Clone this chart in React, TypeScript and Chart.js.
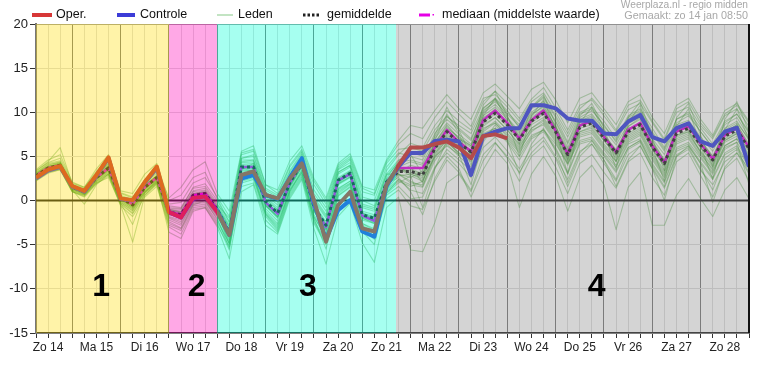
import React, { useEffect, useRef } from 'react';
import { Chart, registerables } from 'chart.js';

Chart.register(...registerables);

const DAY_LABELS = ['Zo 14', 'Ma 15', 'Di 16', 'Wo 17', 'Do 18', 'Vr 19', 'Za 20', 'Zo 21', 'Ma 22', 'Di 23', 'Wo 24', 'Do 25', 'Vr 26', 'Za 27', 'Zo 28'];
const Y_TICKS = [-15, -10, -5, 0, 5, 10, 15, 20];

// 6-hourly values, step 0 = Zo 14 06:00
const OPER = [2.6, 3.5, 3.9, 1.65, 1.1, 2.9, 4.9, 0.25, 0.05, 2.1, 3.85, -1.3, -1.9, 0.3, 0.45, -1.3, -3.9, 2.9, 3.3, 0.65, 0.25, 2.5, 4.2, 0.05, -4.65, -0.5, 1.0, -3.15, -3.5, 1.75, 4.0, 6.0, 6.0, 6.4, 6.7, 6.0, 4.8, 7.3, 7.5, 7.05];
const CONTROLE = [2.5, 3.4, 3.8, 1.6, 1.0, 2.8, 4.8, 0.2, 0.0, 2.0, 3.7, -1.3, -1.9, 0.2, 0.5, -1.2, -3.9, 2.5, 2.9, 0.6, 0.2, 2.6, 4.8, -0.3, -4.4, -1.1, 0.05, -3.5, -4.1, 1.6, 3.85, 5.4, 5.4, 6.75, 6.9, 6.7, 2.9, 7.3, 7.8, 8.2, 8.2, 10.8, 10.8, 10.45, 9.3, 9.05, 9.05, 7.6, 7.5, 8.95, 9.7, 7.2, 6.7, 8.2, 8.75, 6.7, 6.2, 7.8, 8.25, 3.85];
const GEMIDDELDE = [2.8, 3.7, 4.0, 1.5, 1.0, 2.6, 3.7, 0.3, -0.5, 1.5, 2.6, -1.3, -1.6, 0.6, 0.8, -1.0, -3.6, 3.8, 3.8, -0.1, -1.4, 2.0, 4.2, -0.7, -2.8, 2.3, 3.1, -1.6, -2.0, 2.1, 3.3, 3.3, 2.9, 5.9, 7.8, 6.5, 5.5, 8.9, 9.9, 8.6, 6.9, 9.0, 9.9, 7.8, 5.2, 8.3, 8.8, 7.1, 5.4, 7.8, 8.6, 6.1, 4.2, 7.6, 8.2, 6.3, 4.6, 7.3, 8.0, 5.9];
const MEDIAAN = [2.8, 3.7, 4.0, 1.5, 1.0, 2.6, 3.7, 0.3, -0.4, 1.5, 2.6, -1.3, -1.6, 0.6, 0.8, -1.0, -3.6, 3.8, 3.8, -0.2, -1.5, 2.0, 4.2, -0.8, -3.0, 2.3, 3.0, -1.7, -2.3, 2.1, 3.7, 3.7, 3.7, 6.0, 8.0, 6.6, 5.6, 9.1, 10.2, 8.8, 7.0, 9.1, 10.2, 7.9, 5.3, 8.5, 9.0, 7.2, 5.5, 8.0, 8.8, 6.2, 4.3, 7.8, 8.4, 6.4, 4.7, 7.4, 8.2, 6.0];
const NULLIJN = [0, 0];

const LID_01 = [3.0, 3.9, 4.2, 1.7, 1.2, 2.9, 4.1, 0.5, -0.2, 1.8, 2.9, -1.0, -1.2, 1.0, 1.2, -0.6, -3.0, 4.3, 4.4, 0.4, -0.8, 2.6, 4.8, 0.0, -2.0, 3.0, 3.8, -0.8, -1.2, 2.8, 4.3, 4.6, 4.2, 7.0, 8.8, 7.5, 6.4, 9.9, 10.9, 9.4, 7.8, 10.0, 11.0, 8.9, 6.0, 9.2, 9.8, 8.0, 6.3, 8.7, 9.5, 7.0, 5.2, 8.6, 9.1, 7.2, 5.6, 8.2, 9.0, 6.8];
const LID_02 = [2.5, 3.4, 3.7, 1.3, 0.8, 2.3, 3.3, 0.0, -1.0, 1.1, 2.2, -1.8, -2.2, 0.0, 0.2, -1.6, -4.4, 3.0, 3.1, -0.9, -2.3, 1.2, 3.5, -1.6, -3.8, 1.4, 2.2, -2.6, -3.2, 1.2, 2.4, 1.8, 1.5, 4.5, 6.4, 5.0, 3.8, 7.4, 8.2, 6.8, 5.0, 7.2, 8.0, 6.0, 3.2, 6.6, 7.0, 5.2, 3.4, 6.0, 6.8, 4.2, 2.2, 5.8, 6.4, 4.4, 2.6, 5.4, 6.2, 4.0];
const LID_03 = [2.9, 3.8, 4.3, 1.6, 1.1, 2.7, 3.9, 0.4, -0.3, 1.6, 2.8, -0.8, -0.9, 1.5, 1.9, 0.0, -2.5, 4.8, 5.0, 1.0, 0.0, 3.2, 5.2, 0.8, -1.2, 3.5, 4.3, 0.0, -0.6, 3.4, 5.2, 6.5, 6.0, 8.5, 10.2, 9.0, 8.0, 11.2, 12.4, 11.0, 9.3, 11.5, 12.8, 10.5, 8.0, 10.8, 11.4, 9.6, 7.8, 10.3, 11.0, 8.8, 6.8, 10.0, 10.6, 8.5, 7.0, 9.6, 10.4, 8.4];
const LID_04 = [2.7, 3.6, 3.9, 1.4, 0.9, 2.5, 3.6, 0.2, -0.8, 1.3, 2.4, -1.5, -2.0, 0.3, 0.5, -1.3, -5.0, 2.5, 2.8, -1.5, -3.0, 1.0, 3.2, -2.0, -5.5, 0.5, 1.5, -3.5, -5.0, 0.8, 2.0, 2.8, 2.2, 5.0, 7.0, 5.8, 4.6, 8.0, 9.0, 7.6, 6.0, 8.2, 9.0, 7.0, 4.4, 7.6, 8.0, 6.2, 4.5, 7.0, 7.8, 5.2, 3.2, 6.8, 7.4, 5.5, 3.8, 6.6, 7.3, 5.0];
const LID_05 = [2.6, 3.5, 3.8, 1.2, -0.4, 1.8, 3.0, -0.5, -4.7, 0.6, 2.0, -3.6, -4.3, -1.2, -0.8, -3.0, -6.6, 1.0, 1.8, -2.8, -3.8, 0.2, 2.4, -3.2, -7.2, -1.8, -0.3, -4.8, -7.0, -0.8, 0.4, -5.6, -5.8, -2.5, 2.0, 3.0, 1.0, 4.5, 6.5, 5.0, 3.2, 5.4, 6.8, 4.8, 1.6, 5.0, 6.4, 4.6, 2.4, 5.8, 6.6, 3.8, 1.6, 5.2, 6.0, 3.6, 1.2, 4.8, 5.8, 3.2];
const LID_06 = [3.3, 4.4, 6.0, 1.9, 0.7, 2.4, 3.4, -0.3, -2.7, 0.9, 2.3, -2.4, -3.1, -0.5, 0.0, -2.2, -4.8, 3.5, 4.2, -0.6, -2.0, 1.7, 4.5, -1.2, -3.4, 2.0, 3.0, -2.0, -2.6, 2.4, 3.8, 3.0, 2.6, 6.5, 8.6, 7.0, 6.0, 10.0, 11.4, 9.5, 7.2, 9.6, 10.8, 8.4, 5.4, 9.0, 9.6, 7.6, 5.6, 8.4, 9.2, 6.4, 4.0, 8.0, 8.8, 6.8, 5.0, 7.8, 8.6, 6.4];
const LID_07 = [3.1, 4.0, 4.4, 1.8, 1.3, 3.2, 4.6, 0.8, 0.3, 2.3, 3.6, 0.3, 1.5, 3.5, 4.4, 0.8, -1.2, 5.6, 6.2, 1.8, 1.2, 4.5, 6.2, 2.5, 0.3, 4.2, 5.3, 1.6, 1.2, 4.6, 6.8, 8.5, 8.2, 10.2, 12.0, 10.4, 9.2, 12.2, 13.2, 11.8, 10.4, 12.6, 13.4, 11.4, 8.8, 11.6, 12.2, 10.4, 8.6, 11.2, 12.0, 9.4, 7.6, 10.8, 11.6, 9.2, 7.4, 10.2, 11.0, 9.0];
const LID_08 = [2.4, 3.3, 3.6, 1.1, 0.6, 2.1, 3.0, -0.2, -1.2, 0.9, 2.0, -2.0, -2.6, -0.3, 0.0, -1.8, -4.2, 3.2, 3.5, -0.6, -1.8, 1.6, 3.8, -1.2, -3.2, 1.8, 2.6, -2.2, -2.6, 1.6, 3.0, 2.2, 1.6, 5.2, 7.4, 6.2, 5.0, 8.6, 9.4, 8.0, 6.2, 8.2, 9.2, 7.2, 4.6, 7.8, 8.2, 6.4, 4.8, 7.2, 8.0, 5.4, 3.4, 7.0, 7.6, 5.6, 4.0, 6.8, 7.6, 5.2];
const LID_09 = [2.9, 3.8, 4.1, 1.5, 1.0, 2.7, 3.8, 0.3, -0.4, 1.6, 2.7, -1.1, -1.4, 0.8, 1.0, -0.8, -3.3, 4.0, 4.0, 0.2, -1.0, 2.4, 4.4, -0.4, -2.4, 2.6, 3.4, -1.2, -1.6, 2.5, 4.5, 5.5, 5.0, 7.2, 9.5, 8.5, 7.6, 10.5, 11.5, 10.0, 8.6, 10.5, 11.8, 9.6, 7.2, 10.0, 10.6, 9.0, 7.0, 9.6, 10.4, 8.2, 6.0, 9.2, 10.0, 8.2, 6.4, 9.0, 9.8, 7.6];
const LID_10 = [2.6, 3.5, 3.9, 1.4, 0.8, 2.4, 3.5, 0.1, -0.7, 1.3, 2.4, -1.4, -1.8, 0.4, 0.6, -1.2, -3.8, 3.6, 3.6, -0.3, -1.6, 1.8, 4.0, -0.9, -3.0, 2.1, 2.9, -1.8, -2.2, 1.9, 2.6, 1.0, -1.6, 2.5, 5.0, 3.6, 0.4, 3.5, 5.8, 4.2, -0.8, 3.0, 5.0, 2.8, -1.2, 2.6, 4.0, 1.8, -3.3, 1.5, 3.2, -2.8, -2.8, 0.6, 2.5, 0.2, -1.8, 1.2, 2.6, 0.2];
const LID_11 = [3.2, 4.2, 4.5, 1.9, 1.4, 3.0, 4.2, 0.6, 0.1, 2.0, 3.1, -0.6, -0.8, 1.4, 1.6, -0.3, -2.8, 4.6, 4.6, 0.6, -0.5, 2.9, 5.0, 0.2, -1.8, 3.2, 4.0, -0.6, -1.0, 3.0, 3.0, 2.6, 3.4, 6.2, 8.0, 6.6, 5.4, 9.2, 10.4, 8.8, 7.0, 9.2, 10.2, 8.0, 5.2, 8.6, 9.0, 7.2, 5.2, 8.0, 8.8, 6.2, 4.0, 7.8, 8.4, 6.4, 4.6, 7.4, 8.2, 6.0];
const LID_12 = [2.2, 3.1, 3.5, 1.0, 0.5, 2.0, 2.6, -0.4, -1.5, 0.6, 1.8, -2.8, -3.4, -0.8, -0.6, -2.6, -5.6, 2.0, 2.4, -1.8, -3.4, 0.6, 2.8, -2.4, -4.8, 0.8, 1.8, -3.0, -4.0, 0.6, 1.6, 0.2, 0.4, 3.6, 5.8, 4.6, 3.4, 7.0, 8.0, 6.6, 4.6, 7.0, 7.8, 5.8, 3.0, 6.4, 6.8, 5.0, 3.2, 6.0, 6.8, 4.0, 2.0, 5.6, 6.2, 4.2, 2.4, 5.2, 6.0, 3.8];
const LID_13 = [3.0, 3.9, 4.0, 1.6, 1.1, 2.8, 4.3, 0.4, -0.1, 1.9, 3.3, -0.9, -1.0, 1.1, 1.4, -0.5, -2.0, 5.2, 5.6, 1.4, 0.6, 3.8, 5.6, 1.8, -0.4, 3.8, 4.8, 1.0, 0.6, 4.2, 5.8, 6.0, 5.6, 8.0, 9.6, 8.2, 7.0, 10.2, 11.2, 9.8, 8.4, 10.4, 11.2, 9.0, 6.4, 9.4, 10.2, 8.6, 6.6, 9.2, 10.0, 7.6, 5.6, 8.8, 9.6, 7.8, 6.0, 8.6, 9.4, 7.2];
const LID_14 = [2.8, 3.6, 3.9, 1.5, 1.0, 2.6, 3.6, 0.2, -0.6, 1.4, 2.5, -1.6, -1.9, 0.5, 0.7, -1.1, -3.6, 3.8, 3.9, -0.2, -1.4, 2.0, 4.3, -0.8, -2.9, 2.2, 3.0, -1.7, -2.2, 2.0, 3.4, 3.4, 3.0, 5.8, 7.6, 6.4, 5.4, 8.8, 9.8, 8.4, 6.8, 8.8, 9.8, 7.6, 5.0, 8.2, 8.6, 6.8, 5.2, 7.6, 8.4, 5.8, 4.0, 7.4, 8.0, 6.0, 4.4, 7.0, 7.8, 5.6];
const LID_15 = [2.7, 3.7, 4.1, 1.3, 0.9, 2.6, 3.7, 0.3, -0.5, 1.5, 2.6, -1.2, -1.5, 0.7, 0.9, -0.9, -3.5, 3.9, 3.7, -0.1, -1.3, 2.1, 4.1, -0.6, -2.7, 2.4, 3.2, -1.5, -1.9, 2.2, 3.6, 2.8, -0.8, 3.6, 6.8, 5.2, 1.8, 6.6, 8.6, 6.8, 3.0, 6.4, 8.2, 5.6, 2.0, 5.4, 6.8, 4.6, 1.6, 4.6, 6.2, 3.6, 0.0, 5.0, 6.2, 4.2, -0.2, 3.8, 5.4, 3.6];
const LID_16 = [3.1, 4.1, 4.3, 1.7, 1.2, 2.9, 4.0, 0.5, -0.3, 1.7, 2.8, -1.0, -1.3, 0.7, 0.9, -0.9, -3.4, 3.6, 3.4, -0.5, -1.9, 1.4, 3.8, -1.1, -3.1, 1.9, 2.7, -1.9, -2.4, 1.8, 3.2, 4.0, 3.6, 6.6, 8.4, 7.0, 6.2, 9.6, 10.6, 9.2, 7.6, 9.8, 10.6, 8.4, 5.8, 9.0, 9.4, 7.4, 5.8, 8.4, 9.4, 6.8, 4.6, 8.2, 8.8, 6.6, 4.8, 7.6, 8.6, 6.2];
const LID_17 = [2.9, 3.7, 4.0, 1.5, 0.9, 2.5, 3.8, 0.3, -0.5, 1.4, 2.6, -1.3, -1.7, 0.6, 0.8, -1.1, -3.7, 3.7, 3.8, -0.2, -1.5, 1.9, 4.2, -0.8, -2.9, 2.3, 3.1, -1.6, -2.0, 2.1, 3.5, 3.8, 2.0, 6.8, 9.8, 7.6, 4.0, 9.6, 11.6, 9.0, 5.0, 9.6, 11.4, 8.0, 3.0, 8.8, 10.6, 7.8, 3.6, 8.8, 10.8, 6.0, 2.2, 8.4, 10.4, 6.2, 2.4, 8.0, 10.4, 6.8];
const LID_18 = [2.5, 3.5, 3.8, 1.2, 0.7, 2.2, 3.2, -0.1, -0.9, 1.0, 2.1, -1.9, -2.4, -0.2, 0.1, -1.7, -4.6, 2.8, 3.0, -1.2, -2.6, 1.0, 3.4, -1.8, -4.2, 1.2, 2.0, -2.8, -3.6, 1.0, 2.2, 1.6, 2.2, 5.4, 6.8, 5.4, 4.6, 8.2, 8.8, 7.2, 5.6, 8.0, 8.6, 6.6, 4.0, 7.2, 7.6, 5.8, 4.0, 6.6, 7.4, 4.8, 2.8, 6.4, 7.0, 5.0, 3.2, 6.2, 7.0, 4.6];
const LID_19 = [3.0, 3.8, 4.1, 1.6, 1.1, 2.8, 3.9, 0.4, -0.4, 1.6, 2.7, -1.2, -1.4, 0.7, 0.9, -0.9, -3.4, 4.1, 4.2, 0.1, -1.1, 2.3, 4.4, -0.5, -2.6, 2.5, 3.3, -1.4, -1.8, 2.3, 3.8, 4.4, 4.0, 6.4, 8.2, 7.2, 6.2, 9.4, 10.2, 8.8, 7.4, 9.4, 10.4, 8.2, 5.6, 8.6, 9.2, 7.4, 5.6, 8.2, 8.6, 6.6, 4.6, 7.4, 7.8, 5.4, 3.4, 5.8, 6.6, 1.8];
const LID_20 = [2.8, 3.6, 3.9, 1.4, 1.0, 2.5, 3.5, 0.2, -0.6, 1.4, 2.5, -1.4, -1.7, 0.5, 0.7, -1.1, -3.7, 3.7, 3.7, -0.2, -1.5, 1.9, 4.1, -0.8, -3.0, 2.2, 3.0, -1.7, -2.1, 2.0, 3.4, 3.2, 2.8, 5.6, 7.2, 6.0, 5.2, 8.4, 9.4, 8.0, 6.4, 8.6, 9.4, 7.4, 4.8, 7.8, 8.4, 6.8, 5.0, 7.4, 8.2, 5.8, 3.8, 7.2, 7.8, 6.0, 4.2, 6.8, 7.6, 5.6];
const LID_21 = [2.7, 3.6, 4.0, 1.5, 1.0, 2.6, 3.7, 0.3, -0.5, 1.5, 2.6, -1.3, -1.6, 0.6, 0.8, -1.0, -3.6, 3.8, 3.8, -0.1, -1.4, 2.0, 4.2, -0.7, -2.8, 2.3, 3.1, -1.6, -2.0, 2.1, 3.5, 3.6, 3.0, 6.0, 8.0, 6.8, 5.6, 9.0, 10.0, 8.6, 7.0, 9.0, 10.0, 7.8, 5.2, 8.4, 9.0, 7.2, 5.4, 8.0, 8.8, 6.4, 4.4, 8.0, 8.6, 6.8, 5.0, 8.0, 8.8, 7.0];
const LID_22 = [2.6, 3.5, 3.8, 1.3, 0.8, 2.4, 3.4, 0.1, -0.8, 1.2, 2.3, -1.6, -2.0, 0.3, 0.5, -1.4, -4.0, 3.4, 3.4, -0.5, -1.8, 1.6, 3.9, -1.1, -3.3, 1.9, 2.7, -2.0, -2.5, 1.7, 3.0, 2.0, 1.8, 4.8, 6.6, 5.4, 4.4, 7.8, 8.8, 7.4, 5.8, 7.8, 8.8, 6.8, 4.2, 7.4, 7.8, 6.0, 4.4, 6.8, 7.6, 5.0, 3.0, 6.6, 7.2, 5.2, 3.6, 6.2, 7.0, 4.8];
const LID_23 = [3.4, 4.3, 4.8, 2.0, 1.5, 3.3, 4.8, 0.9, 0.4, 2.4, 3.8, -0.4, -0.2, 2.0, 2.6, 0.4, -1.8, 5.4, 5.8, 1.8, 0.8, 4.0, 5.8, 2.2, 0.0, 4.0, 5.0, 1.4, 0.8, 4.4, 6.4, 7.6, 7.0, 9.4, 11.2, 9.8, 8.4, 11.6, 12.0, 10.6, 9.0, 11.2, 12.2, 10.0, 7.6, 10.4, 11.6, 10.0, 8.0, 10.8, 11.4, 9.0, 7.0, 10.4, 11.2, 8.8, 7.2, 9.8, 10.8, 8.8];
const LID_24 = [2.3, 3.2, 3.6, 1.0, 0.4, 1.9, 2.8, -0.6, -1.8, 0.4, 1.6, -3.0, -3.8, -1.0, -0.8, -2.8, -5.2, 1.6, 2.0, -2.2, -3.6, 0.4, 2.6, -2.6, -5.0, 0.6, 1.6, -3.2, -4.4, 0.2, 1.2, -0.6, -1.0, 2.2, 4.6, 3.2, 1.2, 5.2, 6.6, 4.8, 2.2, 5.0, 6.2, 3.8, 0.8, 4.2, 5.2, 3.2, 1.4, 4.4, 5.4, 2.6, 0.6, 4.4, 5.4, 2.8, 0.4, 3.6, 4.8, 2.2];
const LID_25 = [2.9, 3.8, 4.2, 1.6, 1.0, 2.7, 3.8, 0.4, -0.3, 1.7, 2.8, -1.1, -1.3, 0.8, 1.1, -0.7, -3.0, 4.4, 4.6, 0.8, -0.2, 2.8, 4.9, 0.4, -1.6, 3.2, 4.0, -0.4, -0.8, 3.0, 4.6, 5.2, 3.0, 7.4, 10.6, 8.0, 5.0, 10.8, 12.4, 9.6, 6.4, 10.6, 12.0, 8.6, 4.6, 9.6, 11.0, 8.2, 4.4, 9.4, 11.2, 7.0, 3.4, 9.4, 11.0, 7.4, 3.8, 9.2, 11.2, 7.8];
const LID_26 = [2.5, 3.4, 3.7, 1.2, 0.7, 2.2, 3.1, -0.2, -1.1, 1.0, 2.1, -2.2, -2.8, -0.4, -0.2, -2.0, -5.4, 2.2, 2.6, -1.6, -3.2, 0.8, 3.0, -2.2, -4.6, 1.0, 1.9, -3.2, -4.2, 0.8, 2.4, 1.2, 0.8, 3.8, 5.4, 4.2, 2.6, 6.0, 7.2, 5.6, 3.6, 6.0, 7.2, 5.0, 2.4, 5.6, 6.4, 4.2, 2.2, 5.2, 6.2, 3.6, 1.4, 5.0, 5.8, 3.4, 1.8, 4.4, 5.4, 3.0];
const LID_27 = [3.5, 4.6, 5.2, 2.1, 1.5, 3.6, 5.2, 1.1, 0.8, 3.0, 4.2, 0.0, 0.6, 2.6, 3.2, 0.2, -2.4, 4.8, 5.2, 1.2, 0.4, 3.4, 5.4, 1.2, -0.8, 3.6, 4.6, 0.4, 0.0, 3.8, 5.4, 5.0, 4.6, 7.6, 9.2, 8.0, 6.8, 10.4, 11.6, 10.2, 8.2, 10.6, 11.6, 9.4, 6.6, 9.8, 10.4, 8.4, 6.8, 9.4, 10.2, 7.8, 5.8, 9.2, 9.8, 7.8, 6.0, 8.8, 9.8, 7.8];
const LID_28 = [2.4, 3.2, 3.5, 1.0, 0.6, 2.0, 3.0, -0.3, -1.4, 0.8, 1.9, -2.6, -3.2, -0.6, -0.4, -2.4, -4.9, 2.4, 2.8, -1.4, -2.8, 1.2, 3.2, -1.9, -4.0, 1.3, 2.2, -2.6, -3.4, 1.3, 2.8, 3.0, 2.4, 5.0, 6.2, 5.2, 4.8, 7.6, 8.2, 7.0, 5.4, 7.4, 8.0, 6.4, 4.2, 6.8, 7.2, 5.4, 3.8, 6.4, 7.0, 4.6, 2.6, 6.0, 6.6, 4.8, 3.0, 6.0, 6.6, 4.4];
const LEDEN = [LID_01, LID_02, LID_03, LID_04, LID_05, LID_06, LID_07, LID_08, LID_09, LID_10, LID_11, LID_12, LID_13, LID_14, LID_15, LID_16, LID_17, LID_18, LID_19, LID_20, LID_21, LID_22, LID_23, LID_24, LID_25, LID_26, LID_27, LID_28];

// periods (in 6-hour steps) and their names
const ZONE_START = [0, 11, 15, 29.75];
const ZONE_END = [11, 15, 29.75, 59];
const ZONE_NAMES = ['1', '2', '3', '4'];

const FONT = 'Arial, "Liberation Sans", sans-serif';
const ZONE_FILL = ['rgba(255,221,6,0.35)', 'rgba(255,6,184,0.35)', 'rgba(0,255,212,0.35)', 'rgba(132,132,132,0.35)'];
const ZONE_LABEL_X = [5.4, 13.3, 22.5, 46.4];

const pts = (arr: number[]) => arr.map((v, i) => ({ x: i, y: v }));

const zonesPlugin = {
  id: 'zones',
  afterDatasetsDraw(chart: any) {
    const { ctx, chartArea: a, scales } = chart;
    const x = scales.x;
    const y = scales.y;
    ctx.save();
    ctx.beginPath();
    ctx.rect(a.left, a.top, a.right - a.left, a.bottom - a.top);
    ctx.clip();
    for (let i = 0; i < ZONE_NAMES.length; i++) {
      const x0 = Math.round(x.getPixelForValue(ZONE_START[i]));
      const x1 = Math.round(x.getPixelForValue(ZONE_END[i]));
      ctx.fillStyle = ZONE_FILL[i];
      ctx.fillRect(x0, a.top, x1 - x0, a.bottom - a.top);
    }
    ctx.fillStyle = '#000';
    ctx.font = 'bold 32px ' + FONT;
    ctx.textAlign = 'center';
    ctx.textBaseline = 'middle';
    for (let i = 0; i < ZONE_NAMES.length; i++) {
      ctx.fillText(ZONE_NAMES[i], x.getPixelForValue(ZONE_LABEL_X[i]), y.getPixelForValue(-9.8));
    }
    ctx.restore();
    ctx.save();
    ctx.strokeStyle = '#111';
    ctx.lineWidth = 2;
    ctx.beginPath();
    ctx.moveTo(a.right, a.top);
    ctx.lineTo(a.right, a.bottom);
    ctx.stroke();
    ctx.restore();
  },
  afterDraw(chart: any) {
    const ctx = chart.ctx;
    ctx.save();
    const ly = 15;
    const seg = (x0: number, x1: number, color: string, w: number, dash: number[] = []) => {
      ctx.strokeStyle = color;
      ctx.lineWidth = w;
      ctx.setLineDash(dash);
      ctx.beginPath();
      ctx.moveTo(x0, ly);
      ctx.lineTo(x1, ly);
      ctx.stroke();
      ctx.setLineDash([]);
    };
    seg(32, 52, 'rgb(215,55,55)', 4);
    seg(117, 135, 'rgb(60,60,215)', 4);
    seg(217, 233, 'rgb(195,228,195)', 2);
    seg(303, 320, '#222', 3, [2.5, 2]);
    seg(419, 430, 'rgb(230,0,230)', 3);
    ctx.fillStyle = 'rgb(230,0,230)';
    ctx.fillRect(432.5, ly - 1, 1.5, 1.5);
    ctx.fillStyle = '#111';
    ctx.font = '12.5px ' + FONT;
    ctx.textAlign = 'left';
    ctx.textBaseline = 'middle';
    ctx.fillText('Oper.', 56, ly);
    ctx.fillText('Controle', 140, ly);
    ctx.fillText('Leden', 238, ly);
    ctx.fillText('gemiddelde', 327, ly);
    ctx.fillText('mediaan (middelste waarde)', 442, ly);
    ctx.fillStyle = '#a8a8a8';
    ctx.textAlign = 'right';
    ctx.font = '10.2px ' + FONT;
    ctx.fillText('Weerplaza.nl - regio midden', 748, 5);
    ctx.font = '10.8px ' + FONT;
    ctx.fillText('Gemaakt: zo 14 jan 08:50', 748, 16.5);
    ctx.restore();
  },
};

export default function App() {
  const ref = useRef<HTMLCanvasElement | null>(null);
  useEffect(() => {
    if (!ref.current) return;
    const datasets: any[] = [
      { label: 'Oper.', data: pts(OPER), borderColor: 'rgb(205,45,45)', borderWidth: 4 },
      { label: 'Controle', data: pts(CONTROLE), borderColor: 'rgb(50,60,225)', borderWidth: 4 },
      { label: 'gemiddelde', data: pts(GEMIDDELDE), borderColor: '#1e1e1e', borderWidth: 3, borderDash: [3, 3] },
      { label: 'mediaan (middelste waarde)', data: pts(MEDIAAN), borderColor: 'rgb(225,0,225)', borderWidth: 2.5 },
      { label: 'nul', data: [{ x: 0, y: NULLIJN[0] }, { x: 59, y: NULLIJN[1] }], borderColor: '#1a1a1a', borderWidth: 2 },
      ...LEDEN.map((m, i) => ({ label: 'Lid ' + (i + 1), data: pts(m), borderColor: 'rgba(40,145,25,0.36)', borderWidth: 1.1 })),
    ].map((d) => ({ ...d, pointRadius: 0, tension: 0, fill: false, borderJoinStyle: 'round' }));

    const chart = new Chart(ref.current, {
      type: 'line',
      data: { datasets },
      plugins: [zonesPlugin],
      options: {
        animation: false,
        responsive: false,
        events: [],
        layout: { padding: { left: 0, right: 31, top: 24, bottom: 0 } },
        plugins: { legend: { display: false }, tooltip: { enabled: false }, title: { display: false } },
        scales: {
          x: {
            type: 'linear',
            min: 0,
            max: 59,
            afterFit: (s: any) => { s.height = 34; },
            ticks: {
              stepSize: 1,
              autoSkip: false,
              maxRotation: 0,
              padding: 2,
              color: '#222',
              font: { family: FONT, size: 12 },
              callback: (v: any) => ((v - 1) % 4 === 0 ? DAY_LABELS[(v - 1) / 4] : ''),
            },
            grid: {
              color: (c: any) => (c.tick && c.tick.value % 4 === 3 ? '#777' : '#dedede'),
              lineWidth: 1,
              tickLength: 5,
              tickColor: '#333',
            },
            border: { display: true, color: '#222', width: 1.5 },
          },
          y: {
            min: -15,
            max: 20,
            afterFit: (s: any) => { s.width = 36; },
            afterBuildTicks: (s: any) => { s.ticks = Y_TICKS.map((v) => ({ value: v })); },
            ticks: { padding: 2, color: '#222', font: { family: FONT, size: 13 } },
            grid: {
              color: (c: any) => (c.tick && c.tick.value === 20 ? '#999' : c.tick && c.tick.value === 0 ? 'rgba(0,0,0,0)' : '#dcdcdc'),
              tickLength: 6,
              tickColor: '#333',
            },
            border: { display: true, color: '#777', width: 2 },
          },
        },
      },
    } as any);
    return () => chart.destroy();
  }, []);

  return (
    <div style={{ position: 'fixed', left: 0, top: 0, width: 780, height: 367, background: '#fff' }}>
      <canvas ref={ref} width={780} height={367} style={{ display: 'block', width: 780, height: 367 }} />
    </div>
  );
}
